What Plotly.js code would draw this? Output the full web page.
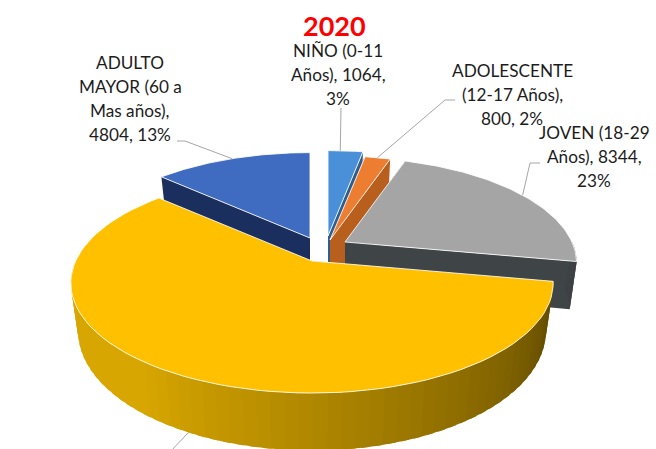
<!DOCTYPE html>
<html><head><meta charset="utf-8">
<script src="https://cdn.plot.ly/plotly-3.0.1.min.js"></script>
<style>html,body{margin:0;padding:0;background:#fff}#c{width:656px;height:449px}</style></head>
<body><div id="c"></div>
<script>
// Data (the large slice's label is cropped, its value is estimated)
const categories = ["NIÑO (0-11 Años)", "ADOLESCENTE (12-17 Años)", "JOVEN (18-29 Años)", "ADULTO (30-59 Años)", "ADULTO MAYOR (60 a Mas años)"];
const values = [1064, 800, 8344, 21488, 4804];
const topColors = ["#4a90d9", "#ed7d31", "#a5a5a5", "#ffc000", "#3f6cc0"];
const sideFrom = ["#2b5f94", "#b85f1e", "#3f4447", "#d8a600", "#1b2f5e"];
const sideTo = ["#2b5f94", "#b85f1e", "#3f4447", "#5c4600", "#1b2f5e"];
const labelLines = [["NIÑO (0-11", "Años), 1064,", "3%"], ["ADOLESCENTE", "(12-17 Años),", "800, 2%"], ["JOVEN (18-29", "Años), 8344,", "23%"], [], ["ADULTO", "MAYOR (60 a", "Mas años),", "4804, 13%"]];
const labelX = [338, 512, 594, 0, 130];
const labelY = [50, 70, 132, 0, 62];
const lineStep = 24.3;
const apexX = [328, 330, 345, 312, 310];
const apexY = [236, 240, 242, 261, 238];
const radiusScale = [0.98, 0.97, 0.97, 1.01, 0.98];
const leaderFrom = [[341, 108], [455, 100], [540, 163], [170, 452], [177, 141]];
const leaderElbow = [[341, 108], [445, 100], [530, 163], [170, 452], [185, 141]];
const leaderFrac = [0.35, 0.5, 0.5, 0, 0.5];
const drawOrder = [0, 4, 1, 2, 3];

const RX = 234, RY = 104.6, K = 0.2, DEPTH = 46, INSET = 0.97;
const total = values.reduce((a, b) => a + b, 0);
const starts = []; let acc = 0;
values.forEach(v => { starts.push(acc / total * 2 * Math.PI); acc += v; });
const ends = values.map((v, i) => starts[i] + v / total * 2 * Math.PI);

function topPt(i, t) {
  const w = 1 + K * Math.cos(t), s = radiusScale[i];
  return [apexX[i] + s * RX * Math.sin(t) / w, apexY[i] - s * RY * Math.cos(t) / w];
}
function botPt(i, t) {
  const p = topPt(i, t), w = 1 + K * Math.cos(t);
  return [apexX[i] + INSET * (p[0] - apexX[i]), p[1] + DEPTH / w];
}
function hex(c) { return [1, 3, 5].map(k => parseInt(c.substr(k, 2), 16)); }
function mix(a, b, f) {
  const A = hex(a), B = hex(b);
  return "rgb(" + A.map((v, k) => Math.round(v + (B[k] - v) * f)).join(",") + ")";
}
function poly(pts, fill, line) {
  return { type: "scatter", mode: line ? "lines" : "none", x: pts.map(p => p[0]), y: pts.map(p => p[1]),
    fill: "toself", fillcolor: fill, line: line || { width: 0 }, hoverinfo: "skip", showlegend: false };
}
const traces = [];
drawOrder.forEach(i => {
  const s = starts[i], e = ends[i];
  const apexBot = [apexX[i], apexY[i] + DEPTH];
  const apexTop = [apexX[i], apexY[i]];
  // radial walls
  [s, e].forEach(t => {
    traces.push(poly([apexTop, topPt(i, t), botPt(i, t), apexBot], sideTo[i]));
  });
  // outer curtain, shaded left to right (each piece overlapping the last)
  const a = Math.max(s, Math.PI / 2), b = Math.min(e, 3 * Math.PI / 2);
  if (b > a) {
    const n = 60;
    for (let k = 0; k < n; k++) {
      const t0 = a + (b - a) * k / n, t1 = a + (b - a) * (k + 1.6) / n;
      const f = 1 - Math.min(1, (k + 0.5) / n * 1.45);
      const hi = Math.min(t1, b);
      traces.push(poly([topPt(i, t0), topPt(i, hi), botPt(i, hi), botPt(i, t0)], mix(sideFrom[i], sideTo[i], f)));
    }
  }
  // top face
  const pts = [apexTop];
  for (let k = 0; k <= 80; k++) pts.push(topPt(i, s + (e - s) * k / 80));
  pts.push(apexTop);
  traces.push(poly(pts, topColors[i], { color: "rgba(255,255,255,0.85)", width: 1 }));
});
// leader lines end on the slice's arc (the large slice's on its lower rim)
values.forEach((v, i) => {
  const p = i === 3 ? botPt(i, 3.6) : topPt(i, starts[i] + (ends[i] - starts[i]) * leaderFrac[i]);
  traces.push({ type: "scatter", mode: "lines", x: [leaderFrom[i][0], leaderElbow[i][0], p[0]], y: [leaderFrom[i][1], leaderElbow[i][1], p[1]],
    line: { color: "#a6a6a6", width: 1 }, hoverinfo: "skip", showlegend: false });
});
const annotations = [{ x: 334, y: 25, xref: "x", yref: "y", text: "<b>2020</b>", showarrow: false, font: { family: "Lato", size: 27, color: "#fe0000" } }];
labelLines.forEach((lines, i) => lines.forEach((t, k) => annotations.push({
  x: labelX[i], y: labelY[i] + k * lineStep, xref: "x", yref: "y", text: t, showarrow: false,
  font: { family: "Lato", size: 17.2, color: "#1c1c1c" } })));
Plotly.newPlot("c", traces, {
  width: 656, height: 449, margin: { l: 0, r: 0, t: 0, b: 0 }, paper_bgcolor: "#fff", plot_bgcolor: "#fff", showlegend: false,
  xaxis: { range: [0, 656], visible: false, fixedrange: true },
  yaxis: { range: [449, 0], visible: false, fixedrange: true },
  annotations
}, { displayModeBar: false, staticPlot: true });
</script></body></html>
